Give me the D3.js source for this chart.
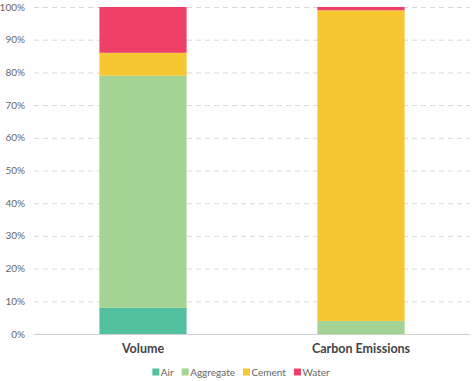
<!DOCTYPE html>
<html>
<head>
<meta charset="utf-8">
<script src="https://cdn.jsdelivr.net/npm/d3@7"></script>
<style>
  body { margin: 0; background: #fff; }
  svg { display: block; font-family: Lato, "Open Sans", "DejaVu Sans", sans-serif; }
</style>
</head>
<body>
<div id="chart"></div>
<script>
var categories = ["Volume", "Carbon Emissions"];
var seriesNames = ["Air", "Aggregate", "Cement", "Water"];
var seriesColors = ["#52BF9F", "#A4D493", "#F6C731", "#EF406A"];
var air = [8, 0];
var aggregate = [71, 4];
var cement = [7, 95];
var water = [14, 1];
var yTicks = [0, 10, 20, 30, 40, 50, 60, 70, 80, 90, 100];

var width = 474, height = 381;
var margin = {top: 7, right: 4, bottom: 47, left: 34};

var rows = categories.map(function (c, i) {
    return {category: c, Air: air[i], Aggregate: aggregate[i], Cement: cement[i], Water: water[i]};
});

var svg = d3.select("#chart").append("svg")
    .attr("width", width)
    .attr("height", height);

var x = d3.scaleBand()
    .domain(categories)
    .range([margin.left, width - margin.right])
    .paddingInner(0.6)
    .paddingOuter(0.3);

var y = d3.scaleLinear()
    .domain([0, 100])
    .range([height - margin.bottom, margin.top]);

// gridlines
svg.append("g")
    .selectAll("line")
    .data(yTicks.filter(function (t) { return t > 0; }))
    .enter().append("line")
    .attr("x1", margin.left)
    .attr("x2", width - margin.right)
    .attr("y1", function (d) { return y(d) + 0.5; })
    .attr("y2", function (d) { return y(d) + 0.5; })
    .attr("stroke", "#d9d9d9")
    .attr("stroke-dasharray", "5,4");

// y labels
svg.append("g")
    .selectAll("text")
    .data(yTicks)
    .enter().append("text")
    .attr("x", 25)
    .attr("y", function (d) { return y(d); })
    .attr("dy", "0.35em")
    .attr("text-anchor", "end")
    .attr("font-size", "10px")
    .attr("fill", "#666")
    .text(function (d) { return d + "%"; });

var stack = d3.stack().keys(seriesNames);
var layers = stack(rows);

svg.append("g")
    .selectAll("g")
    .data(layers)
    .enter().append("g")
    .attr("fill", function (d, i) { return seriesColors[i]; })
    .selectAll("rect")
    .data(function (d) { return d; })
    .enter().append("rect")
    .attr("x", function (d) { return x(d.data.category); })
    .attr("width", x.bandwidth())
    .attr("y", function (d) { return y(d[1]); })
    .attr("height", function (d) { return y(d[0]) - y(d[1]); });

// baseline
svg.append("line")
    .attr("x1", margin.left)
    .attr("x2", width - margin.right)
    .attr("y1", y(0) + 0.5)
    .attr("y2", y(0) + 0.5)
    .attr("stroke", "#d0d0d0");

// category labels
svg.append("g")
    .selectAll("text")
    .data(categories)
    .enter().append("text")
    .attr("x", function (d) { return x(d) + x.bandwidth() / 2; })
    .attr("y", 353)
    .attr("text-anchor", "middle")
    .attr("font-size", "12.5px")
    .attr("font-weight", "bold")
    .attr("fill", "#444")
    .text(function (d) { return d; });

// legend, laid out from measured text widths
var legend = svg.append("g");
var items = legend.selectAll("g")
    .data(seriesNames)
    .enter().append("g");

items.append("rect")
    .attr("x", 0)
    .attr("y", -3.5)
    .attr("width", 7)
    .attr("height", 7)
    .attr("fill", function (d, i) { return seriesColors[i]; });

items.append("text")
    .attr("x", 8.5)
    .attr("dy", "0.35em")
    .attr("font-size", "10px")
    .attr("fill", "#666")
    .text(function (d) { return d; });

var gap = 8;
var offset = 0;
items.each(function () {
    var w = 8.5 + d3.select(this).select("text").node().getComputedTextLength();
    d3.select(this).attr("transform", "translate(" + offset + ",0)");
    offset += w + gap;
});
var total = offset - gap;
legend.attr("transform", "translate(" + (241 - total / 2) + ",372)");
</script>
</body>
</html>
